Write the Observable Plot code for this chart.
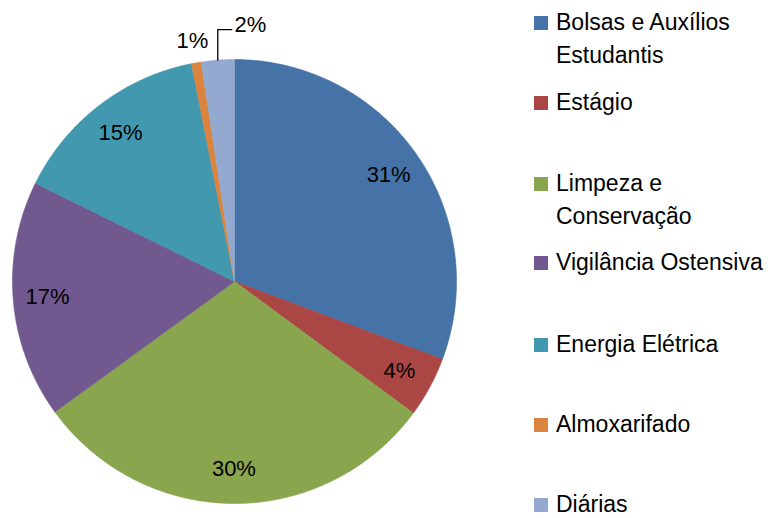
<!DOCTYPE html>
<html>
<head>
<meta charset="utf-8">
<script src="https://cdn.jsdelivr.net/npm/d3@7"></script>
<script src="https://cdn.jsdelivr.net/npm/@observablehq/plot@0.6"></script>
<style>
  html, body { margin: 0; padding: 0; background: #fff; }
  #wrap { position: relative; width: 776px; height: 518px; overflow: hidden; font-family: "Liberation Sans", Arial, sans-serif; }
  #legend { position: absolute; left: 0; top: 0; }
  .item { position: absolute; left: 534px; width: 242px; display: flex; align-items: flex-start; }
  .sw { width: 14px; height: 14px; flex: none; margin-top: 10px; margin-right: 8px; }
  .lbl { font-size: 23px; line-height: 33px; color: #000; width: 218px; }
</style>
</head>
<body>
<div id="wrap"><div id="chart"></div><div id="legend"></div></div>
<script>
const categories = ["Bolsas e Auxílios Estudantis", "Estágio", "Limpeza e Conservação", "Vigilância Ostensiva", "Energia Elétrica", "Almoxarifado", "Diárias"];
const values = [30.7, 4.4, 29.9, 17.3, 14.6, 0.7, 2.4];
const colors = ["#4572A7", "#AA4643", "#89A54E", "#71588F", "#4198AF", "#DB843D", "#93A9CF"];
const percentLabels = ["31%", "4%", "30%", "17%", "15%", "1%", "2%"];

const arcs = d3.pie().sort(null).value(d => d)(values);
const polar = (a, r) => ({x: r * Math.sin(a), y: r * Math.cos(a)});

// slice outlines (geometry derived from the values)
const pts = [];
arcs.forEach((a, i) => {
  const cat = categories[i];
  pts.push({cat, ...polar(0, 0)});
  const n = Math.max(2, Math.ceil((a.endAngle - a.startAngle) / 0.01));
  for (let k = 0; k <= n; k++) {
    const t = a.startAngle + (a.endAngle - a.startAngle) * k / n;
    pts.push({cat, ...polar(t, 1)});
  }
  pts.push({cat, ...polar(0, 0)});
});

// labels
const labelData = [];
const leader = [];
arcs.forEach((a, i) => {
  const mid = (a.startAngle + a.endAngle) / 2;
  const frac = values[i] / 100;
  if (i === categories.length - 1) {
    const p0 = polar(mid, 1);
    const elbowY = 1.135;
    leader.push({x: p0.x, y: p0.y}, {x: p0.x, y: elbowY}, {x: p0.x + 0.063, y: elbowY});
    labelData.push({x: p0.x + 0.075, y: elbowY, text: percentLabels[i], anchor: "start", la: "bottom"});
  } else if (frac < 0.02) {
    const p = polar(mid, 1.10);
    labelData.push({...p, text: percentLabels[i], anchor: "middle", la: "middle"});
  } else {
    const p = polar(mid, 0.845);
    labelData.push({...p, text: percentLabels[i], anchor: "middle", la: "middle"});
  }
});

const chart = Plot.plot({
  width: 776,
  height: 518,
  marginLeft: 12,
  marginRight: 320,
  marginTop: 59,
  marginBottom: 15,
  x: {domain: [-1, 1], axis: null},
  y: {domain: [-1, 1], axis: null},
  color: {domain: categories, range: colors},
  style: {fontFamily: "Liberation Sans, Arial, sans-serif", background: "white", overflow: "visible"},
  marks: [
    Plot.line(pts, {x: "x", y: "y", z: "cat", fill: "cat", stroke: "cat", strokeWidth: 0.6}),
    Plot.line(leader, {x: "x", y: "y", stroke: "#000", strokeWidth: 1.3}),
    Plot.text(labelData.filter(d => d.la === "middle"), {x: "x", y: "y", text: "text", fontSize: 22, fill: "#000", textAnchor: "middle", lineAnchor: "middle"}),
    Plot.text(labelData.filter(d => d.la === "bottom"), {x: "x", y: "y", text: "text", fontSize: 22, fill: "#000", textAnchor: "start", lineAnchor: "bottom", dy: 2})
  ]
});
document.getElementById("chart").appendChild(chart);

// legend
const centers = [23, 103, 184, 263, 345, 425, 505];
const legend = document.getElementById("legend");
categories.forEach((c, i) => {
  const item = document.createElement("div");
  item.className = "item";
  item.style.top = (centers[i] - 17) + "px";
  const sw = document.createElement("div");
  sw.className = "sw";
  sw.style.background = colors[i];
  const lb = document.createElement("div");
  lb.className = "lbl";
  lb.textContent = c;
  item.appendChild(sw);
  item.appendChild(lb);
  legend.appendChild(item);
});
</script>
</body>
</html>
